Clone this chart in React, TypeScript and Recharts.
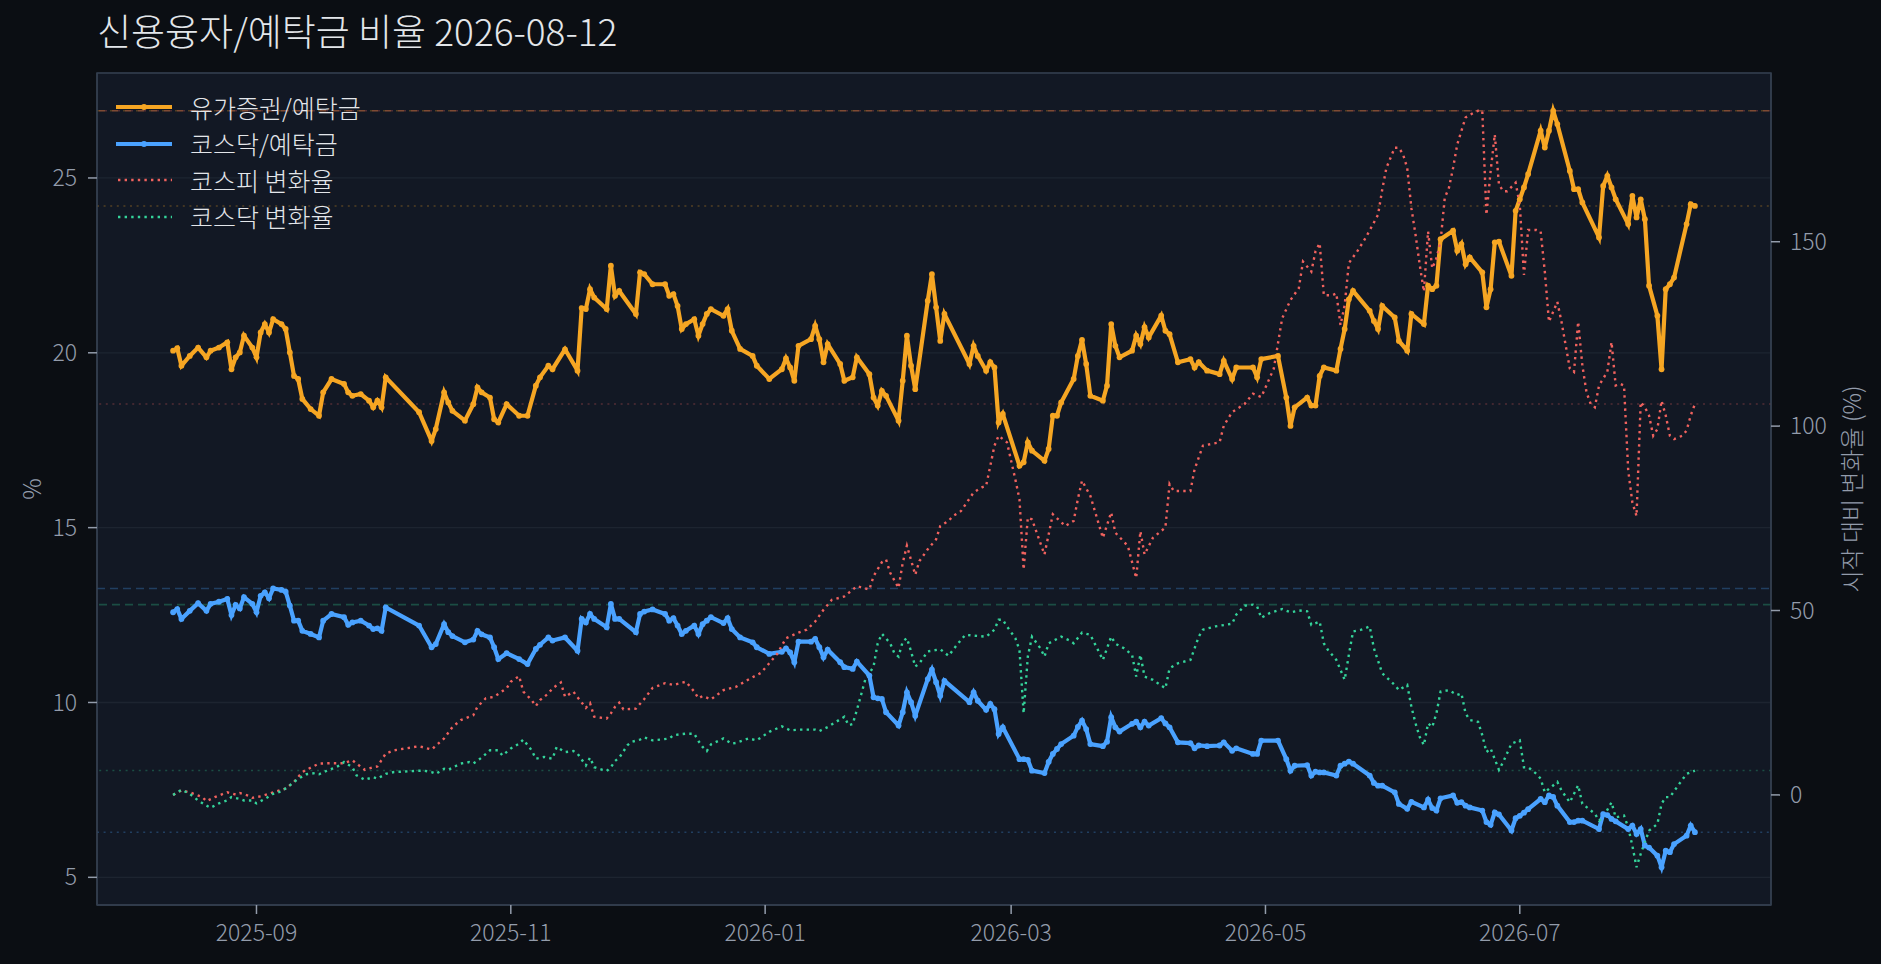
import { LineChart, Line, XAxis, YAxis, CartesianGrid, ReferenceLine, ReferenceArea, Legend } from 'recharts';

// 신용융자/예탁금 비율 (%) — 유가증권, 코스닥 (같은 거래일)
const creditDates = [
  '2025-08-12', '2025-08-13', '2025-08-14', '2025-08-16', '2025-08-18', '2025-08-20', '2025-08-21', '2025-08-23', '2025-08-25', '2025-08-26',
  '2025-08-27', '2025-08-28', '2025-08-29', '2025-08-31', '2025-09-01', '2025-09-02', '2025-09-03', '2025-09-04', '2025-09-05', '2025-09-07',
  '2025-09-08', '2025-09-09', '2025-09-10', '2025-09-11', '2025-09-12', '2025-09-14', '2025-09-16', '2025-09-17', '2025-09-19', '2025-09-22',
  '2025-09-23', '2025-09-24', '2025-09-26', '2025-09-28', '2025-09-29', '2025-09-30', '2025-10-01', '2025-10-02', '2025-10-10', '2025-10-13',
  '2025-10-14', '2025-10-16', '2025-10-17', '2025-10-18', '2025-10-21', '2025-10-23', '2025-10-24', '2025-10-25', '2025-10-27', '2025-10-28',
  '2025-10-29', '2025-10-31', '2025-11-03', '2025-11-05', '2025-11-07', '2025-11-08', '2025-11-10', '2025-11-11', '2025-11-14', '2025-11-17',
  '2025-11-18', '2025-11-19', '2025-11-20', '2025-11-21', '2025-11-24', '2025-11-25', '2025-11-26', '2025-11-27', '2025-12-01', '2025-12-02',
  '2025-12-03', '2025-12-05', '2025-12-08', '2025-12-09', '2025-12-10', '2025-12-11', '2025-12-12', '2025-12-13', '2025-12-15', '2025-12-16',
  '2025-12-17', '2025-12-18', '2025-12-19', '2025-12-22', '2025-12-23', '2025-12-24', '2025-12-26', '2025-12-29', '2025-12-30', '2026-01-02',
  '2026-01-05', '2026-01-06', '2026-01-07', '2026-01-08', '2026-01-09', '2026-01-12', '2026-01-13', '2026-01-14', '2026-01-15', '2026-01-16',
  '2026-01-19', '2026-01-20', '2026-01-22', '2026-01-23', '2026-01-26', '2026-01-27', '2026-01-28', '2026-01-29', '2026-01-30', '2026-02-02',
  '2026-02-03', '2026-02-04', '2026-02-05', '2026-02-06', '2026-02-09', '2026-02-10', '2026-02-11', '2026-02-12', '2026-02-13', '2026-02-19',
  '2026-02-20', '2026-02-21', '2026-02-23', '2026-02-24', '2026-02-25', '2026-02-26', '2026-02-27', '2026-03-03', '2026-03-04', '2026-03-05',
  '2026-03-06', '2026-03-09', '2026-03-10', '2026-03-11', '2026-03-12', '2026-03-13', '2026-03-16', '2026-03-17', '2026-03-18', '2026-03-19',
  '2026-03-20', '2026-03-23', '2026-03-24', '2026-03-25', '2026-03-26', '2026-03-27', '2026-03-30', '2026-03-31', '2026-04-01', '2026-04-02',
  '2026-04-03', '2026-04-06', '2026-04-07', '2026-04-08', '2026-04-10', '2026-04-13', '2026-04-14', '2026-04-15', '2026-04-17', '2026-04-20',
  '2026-04-21', '2026-04-23', '2026-04-24', '2026-04-28', '2026-04-29', '2026-04-30', '2026-05-04', '2026-05-06', '2026-05-07', '2026-05-08',
  '2026-05-11', '2026-05-12', '2026-05-13', '2026-05-14', '2026-05-15', '2026-05-18', '2026-05-19', '2026-05-20', '2026-05-21', '2026-05-22',
  '2026-05-26', '2026-05-27', '2026-05-28', '2026-05-29', '2026-06-01', '2026-06-02', '2026-06-04', '2026-06-05', '2026-06-08', '2026-06-09',
  '2026-06-10', '2026-06-11', '2026-06-12', '2026-06-15', '2026-06-16', '2026-06-17', '2026-06-18', '2026-06-19', '2026-06-22', '2026-06-23',
  '2026-06-24', '2026-06-25', '2026-06-26', '2026-06-29', '2026-06-30', '2026-07-01', '2026-07-02', '2026-07-03', '2026-07-06', '2026-07-07',
  '2026-07-08', '2026-07-09', '2026-07-10', '2026-07-13', '2026-07-14', '2026-07-15', '2026-07-16', '2026-07-20', '2026-07-21', '2026-07-22',
  '2026-07-23', '2026-07-24', '2026-07-27', '2026-07-28', '2026-07-29', '2026-07-30', '2026-07-31', '2026-08-01', '2026-08-03', '2026-08-04',
  '2026-08-05', '2026-08-06', '2026-08-07', '2026-08-10', '2026-08-11', '2026-08-12',
];

const kospiCreditRatio = [
  20.06, 20.13, 19.63, 19.91, 20.15, 19.87, 20.06, 20.15, 20.30, 19.53,
  19.87, 20.01, 20.49, 20.15, 19.87, 20.58, 20.82, 20.58, 20.96, 20.82,
  20.68, 20.01, 19.34, 19.25, 18.68, 18.39, 18.20, 18.87, 19.25, 19.11,
  18.87, 18.77, 18.82, 18.63, 18.44, 18.63, 18.44, 19.30, 18.30, 17.48,
  17.82, 18.87, 18.58, 18.34, 18.06, 18.53, 19.01, 18.87, 18.72, 18.10,
  18.01, 18.53, 18.20, 18.20, 19.06, 19.30, 19.63, 19.53, 20.10, 19.49,
  21.28, 21.25, 21.82, 21.58, 21.25, 22.49, 21.63, 21.77, 21.11, 22.30,
  22.25, 21.96, 21.96, 21.63, 21.68, 21.34, 20.68, 20.82, 20.96, 20.49,
  20.82, 21.11, 21.25, 21.06, 21.25, 20.63, 20.11, 19.91, 19.63, 19.25,
  19.53, 19.84, 19.58, 19.20, 20.20, 20.39, 20.77, 20.39, 19.73, 20.25,
  19.68, 19.20, 19.30, 19.87, 19.39, 18.72, 18.49, 18.91, 18.77, 18.06,
  19.20, 20.49, 19.63, 18.96, 21.49, 22.25, 21.30, 20.34, 21.11, 19.68,
  20.20, 19.91, 19.49, 19.73, 19.58, 18.01, 18.25, 16.77, 16.87, 17.44,
  17.20, 16.91, 17.25, 18.20, 18.20, 18.58, 19.25, 19.91, 20.37, 19.68,
  18.77, 18.63, 19.06, 20.82, 20.20, 19.87, 20.06, 20.49, 20.25, 20.73,
  20.44, 21.06, 20.63, 20.53, 19.73, 19.82, 19.58, 19.73, 19.49, 19.39,
  19.77, 19.25, 19.58, 19.58, 19.30, 19.82, 19.91, 18.72, 17.91, 18.44,
  18.72, 18.49, 18.49, 19.34, 19.58, 19.49, 20.11, 20.68, 21.53, 21.77,
  21.20, 20.91, 20.68, 21.34, 21.01, 20.34, 20.06, 21.11, 20.82, 21.92,
  21.82, 21.92, 23.25, 23.49, 22.92, 23.11, 22.53, 22.73, 22.30, 21.30,
  21.82, 23.16, 23.18, 22.20, 24.06, 24.39, 24.73, 25.11, 26.35, 25.87,
  26.35, 26.92, 26.54, 25.20, 24.68, 24.68, 24.30, 23.30, 24.77, 25.06,
  24.73, 24.39, 23.68, 24.49, 23.87, 24.39, 23.82, 21.92, 21.06, 19.53,
  21.82, 21.96, 22.15, 23.68, 24.25, 24.20,
];

const kosdaqCreditRatio = [
  12.58, 12.67, 12.39, 12.62, 12.84, 12.62, 12.82, 12.88, 12.96, 12.50,
  12.79, 12.69, 13.01, 12.82, 12.58, 13.05, 13.15, 12.98, 13.26, 13.22,
  13.17, 12.77, 12.34, 12.34, 12.05, 11.96, 11.86, 12.34, 12.53, 12.44,
  12.22, 12.29, 12.34, 12.20, 12.10, 12.12, 12.05, 12.72, 12.20, 11.58,
  11.67, 12.24, 12.01, 11.90, 11.72, 11.80, 12.05, 11.95, 11.86, 11.58,
  11.24, 11.41, 11.24, 11.10, 11.53, 11.65, 11.86, 11.77, 11.86, 11.48,
  12.39, 12.29, 12.53, 12.39, 12.15, 12.82, 12.39, 12.39, 12.01, 12.53,
  12.60, 12.66, 12.53, 12.34, 12.41, 12.20, 11.96, 12.05, 12.20, 11.96,
  12.24, 12.34, 12.44, 12.27, 12.41, 12.10, 11.86, 11.72, 11.58, 11.39,
  11.45, 11.55, 11.43, 11.15, 11.74, 11.74, 11.82, 11.58, 11.29, 11.51,
  11.15, 11.01, 10.96, 11.17, 10.77, 10.15, 10.12, 10.10, 9.72, 9.34,
  9.72, 10.29, 10.01, 9.62, 10.67, 10.94, 10.58, 10.19, 10.62, 10.01,
  10.29, 10.05, 9.79, 9.96, 9.81, 9.10, 9.29, 8.38, 8.38, 8.36,
  8.05, 7.98, 8.30, 8.53, 8.67, 8.81, 9.05, 9.30, 9.48, 9.24,
  8.81, 8.75, 8.88, 9.58, 9.29, 9.17, 9.39, 9.45, 9.29, 9.45,
  9.34, 9.55, 9.40, 9.29, 8.86, 8.84, 8.69, 8.77, 8.75, 8.77,
  8.86, 8.62, 8.69, 8.53, 8.53, 8.91, 8.91, 8.38, 8.05, 8.19,
  8.21, 7.91, 8.02, 8.00, 8.00, 7.91, 8.19, 8.25, 8.31, 8.25,
  7.91, 7.70, 7.62, 7.62, 7.43, 7.10, 6.96, 7.16, 7.00, 7.22,
  6.98, 6.91, 7.26, 7.34, 7.13, 7.15, 7.05, 7.00, 6.91, 6.58,
  6.50, 6.86, 6.80, 6.34, 6.69, 6.76, 6.85, 6.95, 7.24, 7.15,
  7.34, 7.30, 7.05, 6.58, 6.58, 6.62, 6.62, 6.38, 6.81, 6.78,
  6.67, 6.60, 6.38, 6.48, 6.24, 6.38, 5.91, 5.85, 5.62, 5.29,
  5.76, 5.72, 5.95, 6.19, 6.48, 6.29,
];

// 시작일 대비 지수 변화율 (%)
const kospiChange: [string, number][] = [
  ['2025-08-12', 0], ['2025-08-14', 1.2], ['2025-08-16', 0.7], ['2025-08-19', -0.6], ['2025-08-20', -1.7],
  ['2025-08-22', -0.6], ['2025-08-25', 0.7], ['2025-08-27', 0.1], ['2025-08-28', 0.5], ['2025-08-30', -0.2],
  ['2025-08-31', -0.8], ['2025-09-02', -0.4], ['2025-09-04', 0.3], ['2025-09-05', 0.7], ['2025-09-08', 1.7],
  ['2025-09-10', 3.5], ['2025-09-12', 6.2], ['2025-09-13', 6.8], ['2025-09-16', 8.5], ['2025-09-19', 8.6],
  ['2025-09-22', 8.6], ['2025-09-24', 9.4], ['2025-09-25', 8.5], ['2025-09-27', 6.8], ['2025-09-29', 7.5],
  ['2025-09-30', 7.7], ['2025-10-02', 11.2], ['2025-10-04', 12.1], ['2025-10-10', 13.2], ['2025-10-13', 12.3],
  ['2025-10-16', 15.3], ['2025-10-18', 18.4], ['2025-10-20', 20.3], ['2025-10-23', 21.6], ['2025-10-24', 23.9],
  ['2025-10-26', 26.2], ['2025-10-28', 26.6], ['2025-10-31', 28.9], ['2025-11-01', 30.7], ['2025-11-03', 32.2],
  ['2025-11-04', 28.0], ['2025-11-06', 25.7], ['2025-11-07', 24.1], ['2025-11-08', 25.7], ['2025-11-10', 27.5],
  ['2025-11-11', 28.9], ['2025-11-13', 30.5], ['2025-11-14', 26.6], ['2025-11-16', 28.0], ['2025-11-17', 26.5],
  ['2025-11-19', 23.6], ['2025-11-20', 24.9], ['2025-11-21', 21.2], ['2025-11-24', 20.7], ['2025-11-25', 22.1],
  ['2025-11-26', 23.9], ['2025-11-27', 25.0], ['2025-11-28', 23.2], ['2025-12-01', 23.4], ['2025-12-03', 26.0],
  ['2025-12-05', 29.0], ['2025-12-08', 30.3], ['2025-12-10', 29.8], ['2025-12-12', 30.4], ['2025-12-13', 30.7],
  ['2025-12-15', 28.0], ['2025-12-16', 26.2], ['2025-12-17', 26.8], ['2025-12-19', 25.9], ['2025-12-22', 28.4],
  ['2025-12-25', 29.3], ['2025-12-28', 31.3], ['2025-12-31', 33.1], ['2026-01-02', 35.7], ['2026-01-04', 38.4],
  ['2026-01-06', 42.5], ['2026-01-09', 44.0], ['2026-01-11', 44.8], ['2026-01-13', 47.0], ['2026-01-15', 50.2],
  ['2026-01-17', 52.9], ['2026-01-20', 53.8], ['2026-01-23', 56.6], ['2026-01-26', 55.7], ['2026-01-27', 59.3],
  ['2026-01-29', 63.1], ['2026-01-30', 63.8], ['2026-01-31', 60.2], ['2026-02-02', 56.1], ['2026-02-03', 62.9],
  ['2026-02-04', 67.6], ['2026-02-06', 59.7], ['2026-02-07', 63.4], ['2026-02-09', 66.6], ['2026-02-11', 69.3],
  ['2026-02-12', 72.9], ['2026-02-14', 74.3], ['2026-02-15', 75.6], ['2026-02-17', 77.0], ['2026-02-20', 82.0],
  ['2026-02-22', 83.4], ['2026-02-23', 83.8], ['2026-02-24', 89.2], ['2026-02-25', 94.7], ['2026-02-26', 97.4],
  ['2026-02-28', 95.6], ['2026-03-02', 85.6], ['2026-03-03', 80.2], ['2026-03-04', 61.1], ['2026-03-05', 75.2],
  ['2026-03-06', 74.7], ['2026-03-09', 65.2], ['2026-03-11', 76.1], ['2026-03-14', 72.9], ['2026-03-16', 74.3],
  ['2026-03-17', 80.2], ['2026-03-18', 85.2], ['2026-03-20', 81.1], ['2026-03-23', 69.7], ['2026-03-25', 76.6],
  ['2026-03-26', 71.1], ['2026-03-29', 67.5], ['2026-03-31', 58.8], ['2026-04-01', 71.5], ['2026-04-02', 65.2],
  ['2026-04-04', 69.7], ['2026-04-07', 72.5], ['2026-04-08', 84.3], ['2026-04-09', 82.4], ['2026-04-13', 82.4],
  ['2026-04-14', 88.3], ['2026-04-16', 94.7], ['2026-04-20', 95.6], ['2026-04-21', 100.1], ['2026-04-23', 103.8],
  ['2026-04-26', 106.0], ['2026-04-28', 108.8], ['2026-04-30', 107.9], ['2026-05-03', 115.6], ['2026-05-05', 129.2],
  ['2026-05-07', 134.2], ['2026-05-09', 137.4], ['2026-05-10', 144.6], ['2026-05-12', 141.9], ['2026-05-13', 147.4],
  ['2026-05-14', 149.6], ['2026-05-15', 135.5], ['2026-05-17', 135.5], ['2026-05-18', 136.0], ['2026-05-19', 127.4],
  ['2026-05-20', 132.8], ['2026-05-21', 144.2], ['2026-05-23', 147.4], ['2026-05-25', 151.0], ['2026-05-28', 157.3],
  ['2026-05-29', 164.1], ['2026-05-30', 170.0], ['2026-06-01', 175.5], ['2026-06-02', 175.5], ['2026-06-03', 173.7],
  ['2026-06-04', 170.0], ['2026-06-05', 159.1], ['2026-06-06', 151.9], ['2026-06-07', 143.7], ['2026-06-08', 136.5],
  ['2026-06-09', 152.8], ['2026-06-10', 142.8], ['2026-06-11', 145.5], ['2026-06-12', 150.1], ['2026-06-13', 161.9],
  ['2026-06-14', 164.6], ['2026-06-15', 170.0], ['2026-06-16', 176.4], ['2026-06-18', 183.7], ['2026-06-20', 185.0],
  ['2026-06-21', 185.5], ['2026-06-22', 185.5], ['2026-06-23', 157.3], ['2026-06-24', 169.1], ['2026-06-25', 179.1],
  ['2026-06-26', 165.5], ['2026-06-27', 163.7], ['2026-06-28', 163.7], ['2026-06-30', 166.0], ['2026-07-01', 160.0],
  ['2026-07-02', 141.0], ['2026-07-03', 153.2], ['2026-07-05', 153.2], ['2026-07-06', 152.8], ['2026-07-07', 141.9],
  ['2026-07-08', 128.3], ['2026-07-10', 133.7], ['2026-07-11', 128.3], ['2026-07-13', 115.6], ['2026-07-14', 114.7],
  ['2026-07-15', 128.3], ['2026-07-16', 116.5], ['2026-07-17', 109.2], ['2026-07-18', 106.0], ['2026-07-19', 105.1],
  ['2026-07-20', 111.0], ['2026-07-21', 112.9], ['2026-07-22', 114.7], ['2026-07-23', 122.8], ['2026-07-24', 111.0],
  ['2026-07-25', 111.5], ['2026-07-26', 111.0], ['2026-07-27', 88.0], ['2026-07-28', 79.3], ['2026-07-29', 75.6],
  ['2026-07-30', 106.5], ['2026-07-31', 105.1], ['2026-08-01', 102.9], ['2026-08-02', 97.4], ['2026-08-03', 99.2],
  ['2026-08-04', 106.9], ['2026-08-05', 102.9], ['2026-08-06', 97.4], ['2026-08-07', 96.5], ['2026-08-09', 97.4],
  ['2026-08-10', 98.8], ['2026-08-11', 102.9], ['2026-08-12', 106.0],
];

const kosdaqChange: [string, number][] = [
  ['2025-08-12', 0], ['2025-08-14', 1.4], ['2025-08-16', 0.3], ['2025-08-18', -1.5], ['2025-08-20', -2.9],
  ['2025-08-21', -3.5], ['2025-08-23', -2.3], ['2025-08-25', -1.5], ['2025-08-26', -0.6], ['2025-08-28', -1.1],
  ['2025-08-29', -1.5], ['2025-08-31', -1.5], ['2025-09-01', -2.3], ['2025-09-03', -1.1], ['2025-09-05', 0.3],
  ['2025-09-07', 1.0], ['2025-09-09', 2.6], ['2025-09-11', 4.4], ['2025-09-13', 5.6], ['2025-09-15', 5.9],
  ['2025-09-16', 5.6], ['2025-09-18', 6.6], ['2025-09-20', 7.5], ['2025-09-21', 8.0], ['2025-09-22', 8.9],
  ['2025-09-24', 7.5], ['2025-09-25', 5.3], ['2025-09-27', 4.1], ['2025-09-29', 4.8], ['2025-09-30', 4.4],
  ['2025-10-02', 5.7], ['2025-10-04', 6.2], ['2025-10-11', 6.6], ['2025-10-13', 6.2], ['2025-10-14', 5.7],
  ['2025-10-16', 7.1], ['2025-10-17', 6.8], ['2025-10-20', 8.5], ['2025-10-22', 8.9], ['2025-10-23', 8.5],
  ['2025-10-25', 10.1], ['2025-10-27', 12.1], ['2025-10-29', 12.1], ['2025-10-30', 10.7], ['2025-11-01', 12.6],
  ['2025-11-03', 13.9], ['2025-11-04', 15.0], ['2025-11-06', 12.1], ['2025-11-07', 9.8], ['2025-11-09', 10.3],
  ['2025-11-11', 9.8], ['2025-11-12', 13.0], ['2025-11-14', 11.6], ['2025-11-16', 11.9], ['2025-11-17', 11.2],
  ['2025-11-18', 9.6], ['2025-11-19', 8.0], ['2025-11-20', 10.1], ['2025-11-21', 7.5], ['2025-11-23', 6.8],
  ['2025-11-24', 6.5], ['2025-11-25', 7.5], ['2025-11-26', 9.2], ['2025-11-27', 10.1], ['2025-11-29', 13.5],
  ['2025-11-30', 14.4], ['2025-12-02', 15.0], ['2025-12-03', 15.6], ['2025-12-05', 14.8], ['2025-12-07', 15.0],
  ['2025-12-09', 15.3], ['2025-12-10', 16.2], ['2025-12-13', 16.6], ['2025-12-15', 16.6], ['2025-12-16', 14.6],
  ['2025-12-17', 13.0], ['2025-12-18', 11.9], ['2025-12-19', 13.7], ['2025-12-22', 15.3], ['2025-12-24', 13.9],
  ['2025-12-25', 14.1], ['2025-12-28', 15.3], ['2025-12-30', 14.8], ['2026-01-02', 17.1], ['2026-01-05', 18.6],
  ['2026-01-07', 17.5], ['2026-01-09', 17.7], ['2026-01-13', 17.7], ['2026-01-14', 17.3], ['2026-01-16', 18.4],
  ['2026-01-18', 19.8], ['2026-01-20', 21.2], ['2026-01-21', 18.9], ['2026-01-22', 19.2], ['2026-01-23', 23.0],
  ['2026-01-24', 27.1], ['2026-01-25', 31.2], ['2026-01-27', 34.8], ['2026-01-28', 41.1], ['2026-01-29', 43.7],
  ['2026-01-31', 41.1], ['2026-02-01', 38.4], ['2026-02-02', 37.5], ['2026-02-03', 41.6], ['2026-02-04', 42.5],
  ['2026-02-05', 38.9], ['2026-02-06', 34.8], ['2026-02-07', 35.7], ['2026-02-09', 38.9], ['2026-02-12', 39.5],
  ['2026-02-14', 37.7], ['2026-02-16', 40.7], ['2026-02-18', 43.4], ['2026-02-23', 42.9], ['2026-02-25', 44.8],
  ['2026-02-26', 47.5], ['2026-02-27', 47.5], ['2026-02-28', 45.7], ['2026-03-02', 42.5], ['2026-03-03', 39.3],
  ['2026-03-04', 22.1], ['2026-03-05', 37.5], ['2026-03-06', 42.9], ['2026-03-08', 39.8], ['2026-03-09', 37.5],
  ['2026-03-10', 41.1], ['2026-03-13', 42.9], ['2026-03-15', 41.9], ['2026-03-16', 41.1], ['2026-03-18', 44.0],
  ['2026-03-20', 43.4], ['2026-03-22', 38.9], ['2026-03-23', 36.6], ['2026-03-25', 42.9], ['2026-03-26', 41.0],
  ['2026-03-28', 39.8], ['2026-03-30', 38.0], ['2026-03-31', 32.1], ['2026-04-01', 38.0], ['2026-04-02', 32.1],
  ['2026-04-04', 31.2], ['2026-04-07', 28.9], ['2026-04-08', 34.3], ['2026-04-10', 35.7], ['2026-04-13', 36.6],
  ['2026-04-15', 42.9], ['2026-04-16', 44.8], ['2026-04-19', 45.7], ['2026-04-23', 46.4], ['2026-04-24', 48.9],
  ['2026-04-26', 51.3], ['2026-04-28', 51.6], ['2026-04-29', 51.1], ['2026-04-30', 48.0], ['2026-05-02', 49.3],
  ['2026-05-05', 50.4], ['2026-05-07', 49.5], ['2026-05-09', 50.0], ['2026-05-11', 49.8], ['2026-05-12', 46.1],
  ['2026-05-14', 47.0], ['2026-05-15', 41.1], ['2026-05-16', 39.3], ['2026-05-18', 36.6], ['2026-05-20', 31.2],
  ['2026-05-21', 38.0], ['2026-05-22', 44.3], ['2026-05-24', 44.8], ['2026-05-26', 45.7], ['2026-05-27', 39.8],
  ['2026-05-29', 33.0], ['2026-06-01', 29.8], ['2026-06-02', 28.4], ['2026-06-04', 29.8], ['2026-06-05', 23.9],
  ['2026-06-06', 19.4], ['2026-06-07', 15.7], ['2026-06-08', 13.5], ['2026-06-09', 19.4], ['2026-06-10', 18.4],
  ['2026-06-11', 22.1], ['2026-06-12', 28.0], ['2026-06-14', 28.4], ['2026-06-16', 27.1], ['2026-06-17', 27.5],
  ['2026-06-18', 22.1], ['2026-06-19', 20.3], ['2026-06-21', 19.8], ['2026-06-22', 16.2], ['2026-06-23', 11.6],
  ['2026-06-24', 12.6], ['2026-06-26', 6.8], ['2026-06-27', 8.9], ['2026-06-29', 13.9], ['2026-07-01', 14.8],
  ['2026-07-02', 7.5], ['2026-07-03', 7.5], ['2026-07-05', 5.7], ['2026-07-06', 4.4], ['2026-07-07', 0.7],
  ['2026-07-10', 3.5], ['2026-07-11', 1.2], ['2026-07-13', -2.0], ['2026-07-15', 2.6], ['2026-07-16', -2.4],
  ['2026-07-19', -5.1], ['2026-07-20', -7.0], ['2026-07-21', -6.1], ['2026-07-23', -2.0], ['2026-07-24', -6.1],
  ['2026-07-26', -5.6], ['2026-07-27', -8.8], ['2026-07-28', -13.8], ['2026-07-29', -19.6], ['2026-07-30', -16.0],
  ['2026-08-01', -9.7], ['2026-08-03', -7.9], ['2026-08-04', -2.4], ['2026-08-05', -0.6], ['2026-08-06', -0.6],
  ['2026-08-08', 2.6], ['2026-08-10', 5.7], ['2026-08-12', 6.6],
];

const monthTicks = ['2025-09', '2025-11', '2026-01', '2026-03', '2026-05', '2026-07'];
const ratioTicks = [5, 10, 15, 20, 25];
const changeTicks = [0, 50, 100, 150];

const FONT = '"Noto Sans CJK KR", "Noto Sans", sans-serif';
const BG = '#0b0e13';
const PLOT_BG = '#121824';
const GRID = '#1d2430';
const SPINE = '#333e4e';
const TICK = '#939cab';
const TEXT = '#e3e6ea';
const ORANGE = '#f6a623';
const BLUE = '#4aa2ff';
const RED = '#f0625e';
const GREEN = '#34d39a';

const DAY = 86400000;
const toDay = (s: string) => Date.parse(s) / DAY;
const fmtMonth = (t: number) => new Date(Math.round(t) * DAY).toISOString().slice(0, 7);

const padded = (vals: number[]): [number, number] => {
  const lo = Math.min(...vals);
  const hi = Math.max(...vals);
  const p = (hi - lo) * 0.05;
  return [lo - p, hi + p];
};

const kospiCreditData = creditDates.map((d, i) => ({ t: toDay(d), v: kospiCreditRatio[i] }));
const kosdaqCreditData = creditDates.map((d, i) => ({ t: toDay(d), v: kosdaqCreditRatio[i] }));
const kospiChangeData = kospiChange.map(([d, v]) => ({ t: toDay(d), v }));
const kosdaqChangeData = kosdaqChange.map(([d, v]) => ({ t: toDay(d), v }));

const xDomain = padded(creditDates.map(toDay));
const ratioDomain = padded([...kospiCreditRatio, ...kosdaqCreditRatio]);
const changeDomain = padded([...kospiChange.map((r) => r[1]), ...kosdaqChange.map((r) => r[1])]);

const last = (a: number[]) => a[a.length - 1];
const guides = [
  { axis: 'left', color: ORANGE, max: Math.max(...kospiCreditRatio), end: last(kospiCreditRatio) },
  { axis: 'left', color: BLUE, max: Math.max(...kosdaqCreditRatio), end: last(kosdaqCreditRatio) },
  { axis: 'right', color: RED, max: Math.max(...kospiChange.map((r) => r[1])), end: last(kospiChange.map((r) => r[1])) },
  { axis: 'right', color: GREEN, max: Math.max(...kosdaqChange.map((r) => r[1])), end: last(kosdaqChange.map((r) => r[1])) },
];

const legendItems = [
  { name: '유가증권/예탁금', color: ORANGE, solid: true },
  { name: '코스닥/예탁금', color: BLUE, solid: true },
  { name: '코스피 변화율', color: RED, solid: false },
  { name: '코스닥 변화율', color: GREEN, solid: false },
];

const renderLegend = () => (
  <div style={{ fontFamily: FONT, fontWeight: 300, fontSize: 25, color: TEXT }}>
    {legendItems.map((it) => (
      <div key={it.name} style={{ display: 'flex', alignItems: 'center', height: 36.5 }}>
        <svg width={56} height={12} style={{ marginRight: 18, flex: 'none' }}>
          {it.solid ? (
            <>
              <line x1={0} y1={6} x2={56} y2={6} stroke={it.color} strokeWidth={4} />
              <circle cx={28} cy={6} r={3} fill={it.color} />
            </>
          ) : (
            <line x1={2} y1={6} x2={56} y2={6} stroke={it.color} strokeWidth={2.4} strokeDasharray="2.4 4.2" />
          )}
        </svg>
        <span style={{ lineHeight: '25px', whiteSpace: 'nowrap' }}>{it.name}</span>
      </div>
    ))}
  </div>
);

const tickStyle = { fill: TICK, fontSize: 23, fontFamily: FONT, fontWeight: 300 };

export default function App() {
  return (
    <div style={{ position: 'fixed', left: 0, top: 0, width: 1881, height: 964, background: BG, fontFamily: FONT, fontWeight: 300, overflow: 'hidden' }}>
      <div style={{ position: 'absolute', left: 97, top: 11, fontSize: 37, lineHeight: '38px', color: TEXT, whiteSpace: 'nowrap' }}>
        신용융자/예탁금 비율 2026-08-12
      </div>
      <div style={{ position: 'absolute', left: 30, top: 489, transform: 'translate(-50%, -50%) rotate(-90deg)', fontSize: 24, color: TICK, whiteSpace: 'nowrap' }}>
        %
      </div>
      <div style={{ position: 'absolute', left: 1850, top: 489, transform: 'translate(-50%, -50%) rotate(-90deg)', fontSize: 24, color: TICK, whiteSpace: 'nowrap' }}>
        시작 대비 변화율 (%)
      </div>
      <LineChart width={1881} height={964} margin={{ top: 73, right: 50, bottom: 19, left: 37 }}>
        <CartesianGrid yAxisId="left" vertical={false} stroke={GRID} strokeWidth={1.3} fill={PLOT_BG} fillOpacity={1} />
        <XAxis
          type="number"
          dataKey="t"
          domain={xDomain}
          ticks={monthTicks.map((m) => toDay(m + '-01'))}
          tickFormatter={fmtMonth}
          allowDataOverflow
          height={40}
          tick={tickStyle}
          tickSize={9}
          tickMargin={11}
          tickLine={{ stroke: TICK, strokeWidth: 1.5 }}
          axisLine={{ stroke: SPINE, strokeWidth: 1.5 }}
        />
        <YAxis
          yAxisId="left"
          orientation="left"
          width={60}
          domain={ratioDomain}
          ticks={ratioTicks}
          allowDataOverflow
          tick={tickStyle}
          tickSize={9}
          tickMargin={11}
          tickLine={{ stroke: TICK, strokeWidth: 1.5 }}
          axisLine={{ stroke: SPINE, strokeWidth: 1.5 }}
        />
        <YAxis
          yAxisId="right"
          orientation="right"
          width={60}
          domain={changeDomain}
          ticks={changeTicks}
          allowDataOverflow
          tick={tickStyle}
          tickSize={9}
          tickMargin={10}
          tickLine={{ stroke: TICK, strokeWidth: 1.5 }}
          axisLine={{ stroke: SPINE, strokeWidth: 1.5 }}
        />
        {guides.map((g) => (
          <ReferenceLine key={g.color + 'max'} yAxisId={g.axis} y={g.max} stroke={g.color + '48'} strokeWidth={1.6} strokeDasharray="8 5" />
        ))}
        {guides.map((g) => (
          <ReferenceLine key={g.color + 'end'} yAxisId={g.axis} y={g.end} stroke={g.color + '48'} strokeWidth={1.6} strokeDasharray="2 4.6" />
        ))}
        <Line
          yAxisId="left"
          data={kospiCreditData}
          dataKey="v"
          name="유가증권/예탁금"
          type="linear"
          stroke={ORANGE}
          strokeWidth={4.2}
          dot={{ r: 2.9, fill: ORANGE, stroke: 'none' }}
          activeDot={false}
          isAnimationActive={false}
        />
        <Line
          yAxisId="left"
          data={kosdaqCreditData}
          dataKey="v"
          name="코스닥/예탁금"
          type="linear"
          stroke={BLUE}
          strokeWidth={4.2}
          dot={{ r: 2.9, fill: BLUE, stroke: 'none' }}
          activeDot={false}
          isAnimationActive={false}
        />
        <Line
          yAxisId="right"
          data={kospiChangeData}
          dataKey="v"
          name="코스피 변화율"
          type="linear"
          stroke={RED}
          strokeWidth={2.4}
          strokeDasharray="2.4 4.2"
          dot={false}
          activeDot={false}
          isAnimationActive={false}
        />
        <Line
          yAxisId="right"
          data={kosdaqChangeData}
          dataKey="v"
          name="코스닥 변화율"
          type="linear"
          stroke={GREEN}
          strokeWidth={2.4}
          strokeDasharray="2.4 4.2"
          dot={false}
          activeDot={false}
          isAnimationActive={false}
        />
        <ReferenceArea
          yAxisId="left"
          x1={xDomain[0]}
          x2={xDomain[1]}
          y1={ratioDomain[0]}
          y2={ratioDomain[1]}
          fill="none"
          stroke={SPINE}
          strokeWidth={1.5}
        />
        <Legend
          layout="vertical"
          align="center"
          verticalAlign="middle"
          content={renderLegend}
          wrapperStyle={{ left: 116, top: 89, width: 'auto' }}
        />
      </LineChart>
    </div>
  );
}
